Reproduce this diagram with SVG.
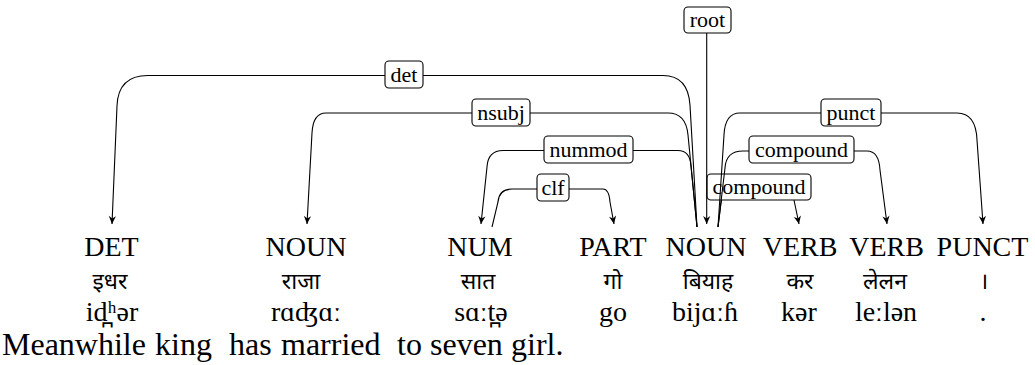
<svg xmlns="http://www.w3.org/2000/svg" width="1035" height="365" viewBox="0 0 1035 365">
<style>
  .pos { font-family: "Liberation Serif", "Times New Roman", serif; font-size: 28px; text-anchor: middle; fill: #000; }
  .dev { font-family: "Noto Sans Devanagari", "Lohit Devanagari", "Noto Sans", sans-serif; font-size: 23px; text-anchor: middle; fill: #000; }
  .ipa { font-family: "Liberation Serif", "DejaVu Serif", "Times New Roman", serif; font-size: 28px; text-anchor: middle; fill: #000; }
  .tr { font-family: "Liberation Serif", "Times New Roman", serif; font-size: 32px; fill: #000; }
  .edge { fill: none; stroke: #000; stroke-width: 1.1; }
  .lbox { fill: #fff; stroke: #000; stroke-width: 1.1; }
  .lbl { font-family: "Liberation Serif", "Times New Roman", serif; font-size: 22px; text-anchor: middle; fill: #000; }
</style>
<defs>
  <marker id="arr" viewBox="-9 -5 10 10" refX="0" refY="0" markerWidth="10" markerHeight="10" markerUnits="userSpaceOnUse" orient="auto">
    <path d="M0,0 L-8,-3.6 L-5.5,0 L-8,3.6 Z" fill="#000"/>
  </marker>
</defs>

<g id="connectors">
  <g id="e-compound2">
    <path class="edge" d="M718 227 L721 203 Q723 189 735 189 H788 Q793 189 794 200 L799 224" marker-end="url(#arr)"/>
    <rect class="lbox" x="707" y="174" width="104" height="26" rx="4"/>
    <text class="lbl" x="759" y="194">compound</text>
  </g>
  <g id="e-det">
    <path class="edge" d="M385 75.5 H148 Q118 75.5 117 106 L112 224" marker-end="url(#arr)"/>
    <path class="edge" d="M423 75.5 H663 Q688 75.5 690 105 L697 227"/>
    <rect class="lbox" x="385" y="61" width="38" height="27" rx="4"/>
    <text class="lbl" x="404" y="82">det</text>
  </g>
  <g id="e-nsubj">
    <path class="edge" d="M472 113 H326 Q313 113 312 133 L307 224" marker-end="url(#arr)"/>
    <path class="edge" d="M530 113 H668 Q686 113 688 135 L697 227"/>
    <rect class="lbox" x="472" y="99" width="58" height="27" rx="4"/>
    <text class="lbl" x="501" y="120">nsubj</text>
  </g>
  <g id="e-nummod">
    <path class="edge" d="M544 150.5 H503 Q488 150.5 487 167 L481 224" marker-end="url(#arr)"/>
    <path class="edge" d="M633 150.5 H678 Q690 150.5 691 166 L697 227"/>
    <rect class="lbox" x="544" y="136" width="89" height="27" rx="4"/>
    <text class="lbl" x="588.5" y="157">nummod</text>
  </g>
  <g id="e-clf">
    <path class="edge" d="M537 189 H512 Q499 189 498 202 L492 227"/>
    <path class="edge" d="M569 189 H603 Q609 189 610 202 L614 224" marker-end="url(#arr)"/>
    <rect class="lbox" x="537" y="174" width="32" height="27" rx="4"/>
    <text class="lbl" x="553" y="195">clf</text>
  </g>
  <g id="e-root">
    <path class="edge" d="M706.7 33 V224" marker-end="url(#arr)"/>
    <rect class="lbox" x="684" y="7" width="47" height="26" rx="4"/>
    <text class="lbl" x="707.5" y="27">root</text>
  </g>
  <g id="e-punct">
    <path class="edge" d="M821 113 H740 Q725 113 724 135 L718 227"/>
    <path class="edge" d="M881 113 H957 Q976 113 977 140 L983 224" marker-end="url(#arr)"/>
    <rect class="lbox" x="821" y="99" width="60" height="27" rx="4"/>
    <text class="lbl" x="851" y="120">punct</text>
  </g>
  <g id="e-compound1">
    <path class="edge" d="M749 151 H743 Q726 151 725 168 L718 227"/>
    <path class="edge" d="M854 151 H867 Q879 151 880 170 L887 224" marker-end="url(#arr)"/>
    <rect class="lbox" x="749" y="136" width="105" height="27" rx="4"/>
    <text class="lbl" x="801.5" y="157">compound</text>
  </g>
</g>

<g id="n1">
  <text class="pos" x="111.5" y="256">DET</text>
  <text class="dev" x="110" y="289">इधर</text>
  <text class="ipa" x="112" y="321">id̪ʰər</text>
</g>
<g id="n2">
  <text class="pos" x="306" y="256">NOUN</text>
  <text class="dev" x="301" y="289">राजा</text>
  <text class="ipa" x="306" y="321">rɑʤɑː</text>
</g>
<g id="n3">
  <text class="pos" x="480" y="256">NUM</text>
  <text class="dev" x="478" y="289">सात</text>
  <text class="ipa" x="481" y="321">sɑːt̪ə</text>
</g>
<g id="n4">
  <text class="pos" x="613" y="256">PART</text>
  <text class="dev" x="613" y="289">गो</text>
  <text class="ipa" x="613" y="321">go</text>
</g>
<g id="n5">
  <text class="pos" x="706" y="256">NOUN</text>
  <text class="dev" x="708" y="289">बियाह</text>
  <text class="ipa" x="705" y="321">bijɑːɦ</text>
</g>
<g id="n6">
  <text class="pos" x="800" y="256">VERB</text>
  <text class="dev" x="800" y="289">कर</text>
  <text class="ipa" x="799" y="321">kər</text>
</g>
<g id="n7">
  <text class="pos" x="886.5" y="256">VERB</text>
  <text class="dev" x="885" y="289">लेलन</text>
  <text class="ipa" x="886" y="321">leːlən</text>
</g>
<g id="n8">
  <text class="pos" x="982.5" y="256">PUNCT</text>
  <text class="dev" x="984" y="289">।</text>
  <text class="ipa" x="983" y="321">.</text>
</g>

<g id="translation">
  <text class="tr" y="355"><tspan x="2">Meanwhile</tspan><tspan x="155">king</tspan><tspan x="229">has</tspan><tspan x="281">married</tspan><tspan x="397">to</tspan><tspan x="430">seven</tspan><tspan x="511">girl.</tspan></text>
</g>
</svg>
